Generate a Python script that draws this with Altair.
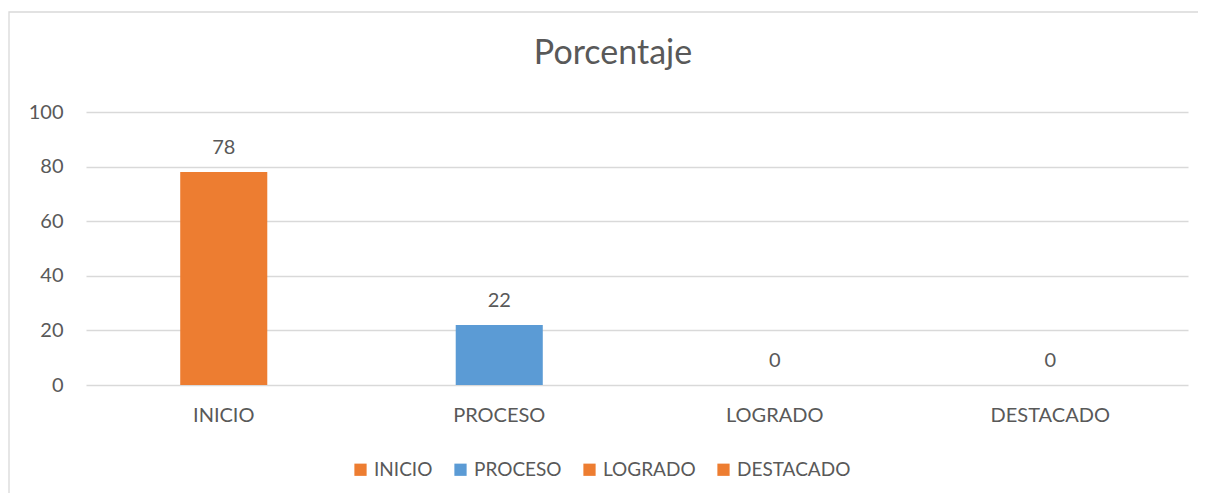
import altair as alt
import pandas as pd

categories = ["INICIO", "PROCESO", "LOGRADO", "DESTACADO"]
values = [78, 22, 0, 0]
colors = ["#ED7D31", "#5B9BD5", "#ED7D31", "#ED7D31"]
y_ticks = [0, 20, 40, 60, 80, 100]

df = pd.DataFrame({"categoria": categories, "valor": values})

FONT = "Lato"
TEXT = "#595959"

x_enc = alt.X("categoria:N", sort=categories,
              scale=alt.Scale(paddingInner=0.684, paddingOuter=0.342),
              axis=alt.Axis(title=None, labelAngle=0, ticks=False, domain=False,
                            labelPadding=20, labelFontSize=20, labelColor=TEXT,
                            labelFont=FONT, grid=False))
y_enc = alt.Y("valor:Q", scale=alt.Scale(domain=[0, 100], nice=False),
              axis=alt.Axis(title=None, values=y_ticks, ticks=False, domain=False,
                            labelPadding=23, labelFontSize=20, labelColor=TEXT,
                            labelFont=FONT, gridColor="#D9D9D9", gridWidth=1.3))

bars = alt.Chart(df).mark_bar().encode(
    x=x_enc, y=y_enc,
    color=alt.Color("categoria:N", sort=categories,
                    scale=alt.Scale(domain=categories, range=colors),
                    legend=alt.Legend(title=None, orient="none", direction="horizontal",
                                      legendX=265, legendY=348, symbolType="square",
                                      symbolSize=150, symbolStrokeWidth=0,
                                      labelFontSize=19, labelColor=TEXT, labelFont=FONT,
                                      labelOffset=4, columnPadding=18, symbolOpacity=1)),
)

labels = alt.Chart(df).mark_text(baseline="alphabetic", dy=-18, fontSize=20,
                                 color=TEXT, font=FONT).encode(
    x=alt.X("categoria:N", sort=categories), y="valor:Q", text="valor:Q")

border = alt.Chart(pd.DataFrame({"b": [0]})).mark_rect(
    fill=None, stroke="#D9D9D9", strokeWidth=1.3).encode(
    x=alt.value(-77), y=alt.value(-100), x2=alt.value(1300), y2=alt.value(600))

chart = alt.layer(border, bars, labels).properties(
    width=1102, height=273,
    autosize=alt.AutoSizeParams(type="none"),
    padding={"left": 78, "top": 104, "right": 10, "bottom": 108},
    title=alt.TitleParams("Porcentaje", fontSize=34, font=FONT, color=TEXT,
                          fontWeight="normal", anchor="middle", dx=-24,
                          baseline="alphabetic", offset=-87),
).configure_view(stroke=None)

chart.save("out.html", embed_options={"renderer": "svg", "actions": False})
